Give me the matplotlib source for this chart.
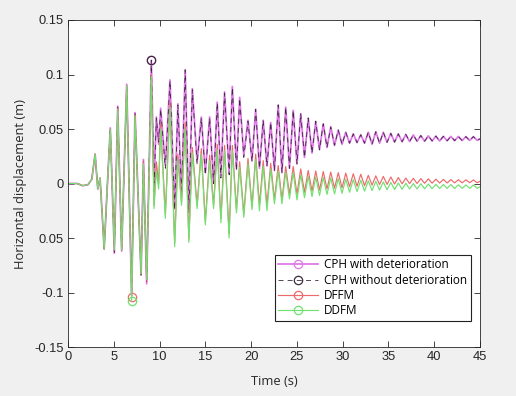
import matplotlib.pyplot as plt

# extrema (time in s, displacement in m)
time = [0.0, 1.0, 1.6, 2.2, 2.6, 2.96, 3.25, 3.5, 3.95, 4.35, 4.62, 5.06, 5.43, 5.86,
        6.41, 6.95, 7.32, 7.98, 8.24, 8.59, 9.1,
        9.4, 9.65, 9.9, 10.12, 10.63, 11.14, 11.65, 12.0, 12.4, 12.8, 13.2, 13.58,
        14.1, 14.56, 15.0, 15.47, 15.9, 16.3, 16.7, 17.1, 17.6, 17.95, 18.4, 18.75,
        19.2, 19.66, 20.1,
        20.5, 20.91, 21.32, 21.73, 22.14, 22.55, 22.96, 23.37, 23.78, 24.19,
        24.6, 25.01, 25.42, 25.83, 26.24, 26.65, 27.06, 27.47, 27.88, 28.29,
        28.7, 29.11, 29.52, 29.93, 30.34, 30.75, 31.16, 31.57, 31.98, 32.39,
        32.8, 33.21, 33.62, 34.03, 34.44, 34.85, 35.26, 35.67, 36.08, 36.49,
        36.9, 37.31, 37.72, 38.13, 38.54, 38.95, 39.36, 39.77, 40.18, 40.59,
        41.0, 41.41, 41.82, 42.23, 42.64, 43.05, 43.46, 43.87, 44.28, 44.69, 45.0]

# shared tail of both CPH curves (the two overlap after ~20 s)
cph_tail = [0.068, 0.014, 0.058, 0.016, 0.056, 0.012, 0.072, 0.010, 0.070, 0.014,
            0.067, 0.018, 0.064, 0.024, 0.060, 0.028, 0.057, 0.031, 0.0547, 0.033,
            0.052, 0.035, 0.049, 0.036, 0.047, 0.037, 0.0455, 0.0375, 0.0447, 0.037,
            0.047, 0.036, 0.0475, 0.037, 0.047, 0.0378, 0.046, 0.038, 0.0455, 0.0383,
            0.045, 0.0385, 0.0445, 0.0387, 0.044, 0.0388, 0.0437, 0.039, 0.0435, 0.039,
            0.0433, 0.0392, 0.0432, 0.0393, 0.0431, 0.0394, 0.043, 0.0395, 0.043, 0.0396,
            0.041]

cph_det = [0.0, 0.0, -0.002, -0.001, 0.004, 0.027, -0.005, 0.005, -0.060, 0.007,
           0.051, -0.064, 0.071, -0.062, 0.091, -0.103, 0.065, -0.084, 0.022, -0.092, 0.113,
           0.000, 0.061, 0.036, 0.069, 0.0165, 0.095, -0.023, 0.073, -0.008, 0.1045,
           -0.026, 0.087, 0.020, 0.061, 0.010, 0.061, 0.001, 0.0746, 0.007, 0.084,
           0.010, 0.089, 0.0135, 0.079, 0.026, 0.058, 0.021] + cph_tail

cph_nodet = [0.0, 0.0, -0.002, -0.001, 0.004, 0.027, -0.005, 0.005, -0.060, 0.007,
             0.051, -0.063, 0.070, -0.062, 0.090, -0.102, 0.064, -0.084, 0.021, -0.091, 0.113,
             -0.003, 0.060, 0.038, 0.068, 0.014, 0.094, -0.024, 0.072, -0.010, 0.104,
             -0.027, 0.086, 0.018, 0.060, 0.008, 0.060, 0.000, 0.074, 0.005, 0.083,
             0.008, 0.088, 0.012, 0.078, 0.024, 0.057, 0.020] + cph_tail

dffm = [0.0, 0.0, -0.002, -0.001, 0.004, 0.027, -0.005, 0.005, -0.060, 0.007,
        0.050, -0.061, 0.069, -0.061, 0.090, -0.104, 0.063, -0.083, 0.020, -0.089, 0.100,
        -0.020, 0.020, 0.000, 0.055, -0.028, 0.074, -0.055, 0.027, -0.017, 0.056,
        -0.051, 0.033, -0.020, 0.032, -0.035, 0.026, -0.020, 0.036, -0.032, 0.035,
        -0.046, 0.035, -0.024, 0.020, -0.028, 0.023, -0.021,
        0.027, -0.020, 0.021, -0.020, 0.0186, -0.015, 0.0165, -0.015, 0.0156, -0.010,
        0.0156, -0.010, 0.0134, -0.008, 0.012, -0.007, 0.0115, -0.006, 0.011, -0.005,
        0.0105, -0.0045, 0.010, -0.004, 0.0095, -0.003, 0.009, -0.0025, 0.0085, -0.002,
        0.0075, -0.0015, 0.007, -0.001, 0.0065, -0.0008, 0.006, -0.0005, 0.0055, -0.0003,
        0.005, -0.0001, 0.0048, 0.0, 0.0045, 0.0002, 0.0043, 0.0003, 0.004, 0.0004,
        0.0038, 0.0005, 0.0036, 0.0006, 0.0035, 0.0006, 0.0034, 0.0007, 0.0033, 0.0007,
        0.002]

ddfm = [0.0, 0.0, -0.002, -0.001, 0.004, 0.027, -0.005, 0.005, -0.060, 0.007,
        0.050, -0.061, 0.068, -0.061, 0.090, -0.108, 0.062, -0.083, 0.018, -0.088, 0.098,
        -0.023, 0.012, -0.005, 0.050, -0.032, 0.070, -0.058, 0.022, -0.020, 0.050,
        -0.054, 0.028, -0.023, 0.027, -0.038, 0.021, -0.023, 0.031, -0.036, 0.030,
        -0.050, 0.030, -0.027, 0.015, -0.031, 0.018, -0.024,
        0.022, -0.025, 0.016, -0.025, 0.0135, -0.0186, 0.0115, -0.0186, 0.0105, -0.014,
        0.010, -0.015, 0.008, -0.013, 0.0065, -0.012, 0.006, -0.011, 0.0055, -0.010,
        0.005, -0.0095, 0.0045, -0.009, 0.004, -0.008, 0.0035, -0.0075, 0.003, -0.007,
        0.0025, -0.0065, 0.002, -0.006, 0.0015, -0.0058, 0.001, -0.0055, 0.0005, -0.0053,
        0.0003, -0.005, 0.0, -0.005, -0.0002, -0.0048, -0.0005, -0.0047, -0.0007, -0.0046,
        -0.0009, -0.0045, -0.001, -0.0045, -0.0012, -0.0044, -0.0013, -0.0044, -0.0014, -0.0044,
        -0.003]

labels = ["CPH with deterioration", "CPH without deterioration", "DFFM", "DDFM"]
x_ticks = [0, 5, 10, 15, 20, 25, 30, 35, 40, 45]
y_ticks = [-0.15, -0.1, -0.05, 0, 0.05, 0.1, 0.15]
y_ticklabels = ["-0.15", "-0.1", "0.05", "0", "0.05", "0.1", "0.15"]


def peak_index(vals):
    # MATLAB-style single marker at the largest absolute value
    return max(range(len(vals)), key=lambda i: abs(vals[i]))


fig = plt.figure(figsize=(5.16, 3.96), dpi=100, facecolor="#f0f0f0")
ax = fig.add_axes([0.1318, 0.1237, 0.7984, 0.8258])

series = [
    (cph_det, dict(color="#e07ae8", ls="-", lw=1.3)),
    (cph_nodet, dict(color="#3a2a3a", ls="--", dashes=(6, 5), lw=0.6)),
    (dffm, dict(color="#ee6a6a", ls="-", lw=0.85)),
    (ddfm, dict(color="#72e070", ls="-", lw=0.85)),
]
for (vals, style), lab in zip(series, labels):
    ax.plot(time, vals, marker="o", markevery=[peak_index(vals)],
            mfc="none", ms=6, mew=0.9, label=lab, **style)

ax.set_xlim(0, 45)
ax.set_ylim(-0.15, 0.15)
ax.set_xticks(x_ticks)
ax.set_yticks(y_ticks)
ax.set_yticklabels(y_ticklabels)
ax.tick_params(direction="in", top=True, right=True, length=4, width=0.6,
               colors="#262626", labelsize=9.3, pad=3)
for lbl in ax.get_xticklabels() + ax.get_yticklabels():
    lbl.set_family("Liberation Sans")
for sp in ax.spines.values():
    sp.set_color("#262626")
    sp.set_linewidth(0.6)

ax.set_xlabel("Time (s)", family="Open Sans", fontsize=9.3, color="#262626")
ax.set_ylabel("Horizontal displacement (m)", family="Open Sans", fontsize=9.3,
              color="#262626")
ax.xaxis.set_label_coords(0.5, -0.085)
ax.yaxis.set_label_coords(-0.1, 0.5)

leg = ax.legend(loc="lower right", bbox_to_anchor=(0.978, 0.0795),
                prop={"family": "Open Sans", "size": 8.5}, fancybox=False,
                edgecolor="#222222", framealpha=1, handlelength=3.4,
                labelspacing=0.2, borderpad=0.3, handletextpad=0.5,
                borderaxespad=0, numpoints=1)
leg.get_frame().set_linewidth(0.8)

fig.savefig("out.png", dpi=100, facecolor=fig.get_facecolor())
